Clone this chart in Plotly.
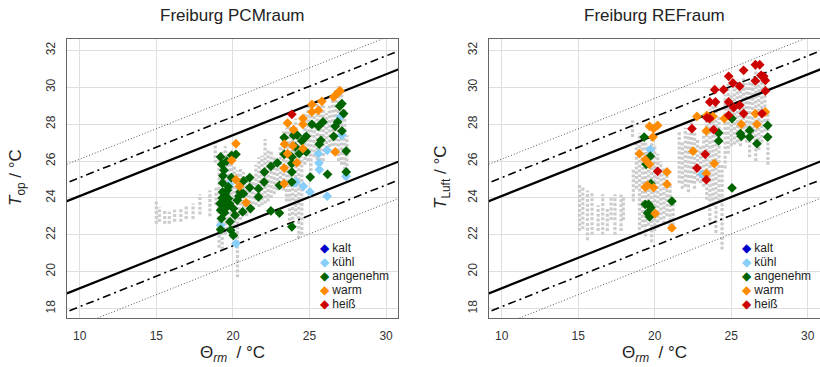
import plotly.graph_objects as go

# ---------------- data ----------------
x_ticks = [10, 15, 20, 25, 30]
y_ticks = [18, 20, 22, 24, 26, 28, 30, 32]
categories = ["kalt", "kühl", "angenehm", "warm", "heiß"]
cat_colors = ["#0000CD", "#87CEFA", "#006400", "#FF8C00", "#CD0000"]

# comfort limits (EN 15251): T = slope*x + base + offset
limit_slope = 0.33
limit_base = 18.8
limit_offsets = [2, -3, 3, -4, 4, -5]
limit_styles = ["solid", "solid", "dashdot", "dashdot", "dot", "dot"]

# gray background measurements (columns: x, lowest y, highest y)
pcm_gray_x = [15.0, 15.2, 15.55, 15.85, 16.2, 16.6, 16.95, 17.4, 17.85, 18.5, 18.85, 18.9,
              19.1, 19.3, 19.5, 19.7, 19.9, 20.1, 20.3, 20.5, 20.7, 20.9, 21.1, 21.3,
              21.5, 21.7, 21.9, 22.1, 22.3, 22.5, 22.7, 22.9, 23.1, 23.3, 23.5, 23.7,
              23.9, 24.1, 24.3, 24.5, 24.7, 24.9, 25.1, 25.3, 25.5, 25.7, 25.9, 26.1,
              26.3, 26.5, 26.7, 26.9, 27.1, 27.3, 27.45]
pcm_gray_lo = [22.6, 22.7, 22.6, 22.6, 22.7, 22.7, 22.85, 22.85, 23.1, 23.0, 25.9, 23.6,
               21.3, 21.2, 22.0, 22.3, 21.8, 22.4, 19.7, 22.8, 23.2, 23.0, 23.2, 23.4,
               23.6, 23.5, 23.6, 23.7, 23.8, 24.0, 24.2, 24.4, 24.5, 24.4, 23.8, 22.5,
               22.3, 23.0, 21.8, 22.0, 25.8, 26.0, 25.2, 26.2, 25.8, 25.5, 26.0, 26.4,
               26.5, 26.8, 26.3, 26.0, 25.8, 25.0, 25.2]
pcm_gray_hi = [23.9, 23.5, 23.35, 23.25, 23.35, 23.45, 23.6, 23.7, 24.2, 24.4, 27.1, 24.6,
               26.3, 26.5, 26.8, 26.5, 26.0, 25.8, 25.5, 25.6, 25.4, 25.2, 24.9, 25.0,
               25.8, 26.2, 26.3, 27.2, 26.6, 26.5, 26.3, 26.0, 26.8, 27.6, 27.8, 28.2,
               27.6, 28.3, 27.0, 26.2, 28.6, 29.0, 28.9, 28.5, 29.3, 29.0, 29.4, 28.6,
               29.0, 29.6, 29.9, 30.1, 29.6, 28.8, 27.4]

ref_gray_x = [15.08, 15.3, 15.6, 15.9, 16.3, 16.6, 16.9, 17.15, 17.4, 17.8, 17.95, 18.55,
              18.6, 18.8, 19.0, 19.2, 19.4, 19.6, 19.8, 20.0, 20.2, 20.4, 20.6, 20.8,
              21.0, 21.2, 21.6, 21.8, 22.0, 22.2, 22.4, 22.6, 22.8, 23.0, 23.2, 23.4,
              23.6, 23.8, 24.0, 24.2, 24.4, 24.6, 24.8, 25.0, 25.2, 25.4, 25.6, 25.8,
              26.0, 26.2, 26.4, 26.6, 26.8, 27.0, 27.2, 27.4]
ref_gray_lo = [22.2, 22.3, 21.7, 22.0, 22.2, 22.0, 22.2, 22.8, 22.0, 22.2, 22.8, 27.3,
               23.8, 24.5, 22.0, 22.4, 21.9, 22.5, 21.6, 22.2, 22.4, 22.8, 22.6, 23.0,
               22.2, 22.5, 24.8, 24.5, 24.6, 24.3, 24.8, 24.5, 24.9, 24.8, 24.6, 23.9,
               22.5, 23.6, 22.1, 23.8, 21.2, 25.6, 26.4, 26.8, 26.9, 27.0, 26.8, 27.2,
               27.0, 26.2, 27.2, 26.0, 26.6, 27.0, 27.6, 25.8]
ref_gray_hi = [24.7, 24.6, 24.4, 24.3, 23.6, 24.2, 23.5, 24.0, 24.2, 24.2, 24.1, 28.2,
               25.6, 27.0, 27.5, 27.4, 27.0, 26.8, 27.2, 26.9, 26.4, 26.0, 25.6, 25.2,
               24.8, 24.0, 27.6, 27.0, 27.8, 27.5, 28.1, 27.6, 27.2, 26.8, 27.5, 28.6,
               28.8, 29.0, 29.2, 28.4, 25.8, 29.6, 30.2, 29.7, 30.0, 30.4, 30.1, 30.6,
               30.2, 30.4, 30.6, 31.0, 30.8, 30.6, 30.2, 28.6]

# ---- PCM room votes ----
pcm_kalt_x, pcm_kalt_y = [], []
pcm_kuehl_x = [19.2, 19.76, 20.2, 24.0, 24.13, 24.6, 25.03, 26.16, 25.58, 25.62, 25.64,
               26.16, 27.1, 27.0, 27.39]
pcm_kuehl_y = [22.51, 24.72, 21.52, 24.81, 24.86, 24.63, 24.32, 24.09, 26.4, 25.89, 25.53,
               26.58, 27.39, 28.38, 25.17]
pcm_angenehm_x = [19.2, 19.27, 19.42, 19.33, 19.33, 19.16, 19.2, 19.25, 19.2, 19.49, 19.55,
                  19.6, 19.64, 19.71, 19.77, 19.81, 19.86, 20.03, 19.92, 20.2, 20.03, 20.14,
                  20.29, 20.47, 20.69, 20.69, 20.64, 21.1, 21.1, 21.15, 21.67, 21.67, 22.04,
                  22.06, 22.48, 22.48, 23.04, 23.04, 23.35, 23.35, 23.85, 23.85, 23.85, 23.85,
                  23.85, 23.96, 24.07, 24.33, 24.5, 24.79, 24.79, 25.05, 25.16, 25.59, 25.64,
                  25.75, 25.88, 26.18, 26.58, 26.68, 26.84, 26.97, 27.12, 27.23, 27.12, 27.4,
                  27.4, 19.4, 19.5, 19.7, 19.3, 19.45, 19.9, 20.4, 19.35, 19.6, 22.9, 24.2]
pcm_angenehm_y = [26.22, 25.82, 25.5, 24.81, 24.32, 23.69, 23.33, 22.88, 22.28, 24.23, 23.87,
                  23.5, 24.41, 23.96, 23.69, 22.7, 22.25, 21.97, 26.31, 26.36, 23.42, 23.06,
                  23.87, 24.32, 24.23, 24.92, 23.24, 25.1, 24.56, 23.42, 24.5, 24.05, 24.86,
                  25.4, 25.71, 23.29, 23.18, 24.68, 27.27, 26.36, 26.22, 25.86, 25.41, 24.86,
                  22.43, 27.39, 26.76, 26.4, 27.09, 27.34, 26.49, 25.13, 27.99, 27.88, 26.91,
                  27.12, 28.12, 25.28, 27.34, 27.88, 28.12, 28.97, 29.11, 28.57, 27.63, 26.54,
                  25.41, 24.0, 23.6, 24.6, 24.0, 23.2, 25.1, 24.1, 25.2, 26.0, 25.9, 27.4]
pcm_warm_x = [19.92, 20.2, 20.2, 20.43, 20.86, 23.57, 23.37, 23.57, 23.35, 23.35, 23.96, 23.91,
              24.18, 24.57, 24.57, 24.57, 25.16, 25.16, 25.59, 25.81, 26.58, 26.84, 27.0, 26.68]
pcm_warm_y = [26.04, 26.94, 24.99, 24.63, 23.74, 28.06, 26.91, 26.4, 25.62, 24.77, 27.7, 26.83,
              25.91, 28.3, 27.99, 26.67, 29.07, 28.66, 28.75, 29.24, 29.47, 29.69, 29.8, 26.49]
pcm_heiss_x = [23.85]
pcm_heiss_y = [28.53]

# ---- reference room votes ----
ref_kalt_x, ref_kalt_y = [], []
ref_kuehl_x = [19.71, 23.09]
ref_kuehl_y = [26.62, 25.28]
ref_angenehm_x = [19.31, 19.71, 19.44, 19.75, 19.38, 19.6, 19.75, 19.53, 19.66, 21.12, 25.05,
                  24.18, 24.18, 25.6, 25.66, 26.2, 26.2, 26.68, 27.38, 27.38, 25.05]
ref_angenehm_y = [27.3, 26.26, 25.82, 24.77, 23.65, 23.65, 23.47, 23.18, 22.97, 23.82, 28.3,
                  27.52, 27.09, 27.48, 27.34, 27.66, 27.3, 26.94, 27.93, 27.3, 24.54]
ref_warm_x = [19.66, 19.92, 20.19, 19.88, 19.0, 19.38, 19.66, 19.38, 19.53, 19.92, 20.8, 20.8,
              20.03, 21.12, 22.76, 23.41, 23.8, 23.37, 22.5, 23.89, 23.37, 24.55, 25.66, 26.58,
              26.68, 27.23]
ref_warm_y = [27.88, 27.75, 27.93, 27.3, 26.4, 26.08, 25.82, 24.59, 24.68, 24.56, 25.41, 24.74,
              23.15, 22.37, 28.42, 28.48, 28.42, 27.63, 26.53, 25.86, 25.32, 28.3, 27.99, 28.57,
              27.99, 28.66]
ref_heiss_x = [26.58, 26.86, 25.81, 26.95, 27.12, 27.23, 26.58, 24.83, 25.11, 25.55, 23.92, 24.5,
               27.23, 23.6, 23.97, 24.83, 25.16, 25.55, 25.81, 27.01, 24.83, 23.41, 23.59, 23.85,
               22.43, 23.3, 22.76, 23.37, 20.19]
ref_heiss_y = [31.22, 31.22, 30.92, 30.65, 30.59, 30.37, 30.34, 30.59, 30.23, 30.05, 29.87, 29.87,
               29.8, 29.2, 29.2, 29.2, 28.89, 29.02, 28.57, 28.57, 28.48, 28.35, 28.3, 27.7,
               27.75, 26.36, 25.62, 24.99, 25.44]

panels = [
    dict(title="Freiburg PCMraum", ytitle="<i>T</i><sub>op</sub> / °C",
         gx=pcm_gray_x, glo=pcm_gray_lo, ghi=pcm_gray_hi,
         votes=[(pcm_kalt_x, pcm_kalt_y), (pcm_kuehl_x, pcm_kuehl_y),
                (pcm_angenehm_x, pcm_angenehm_y), (pcm_warm_x, pcm_warm_y),
                (pcm_heiss_x, pcm_heiss_y)]),
    dict(title="Freiburg REFraum", ytitle="<i>T</i><sub>Luft</sub> / °C",
         gx=ref_gray_x, glo=ref_gray_lo, ghi=ref_gray_hi,
         votes=[(ref_kalt_x, ref_kalt_y), (ref_kuehl_x, ref_kuehl_y),
                (ref_angenehm_x, ref_angenehm_y), (ref_warm_x, ref_warm_y),
                (ref_heiss_x, ref_heiss_y)]),
]

# ---------------- layout geometry (pixels) ----------------
W, H = 820, 367
X_RANGE = [9.15, 30.8]
Y_RANGE = [17.47, 32.6]
x_domains = [[66.7 / W, 398.3 / W], [488.7 / W, 1.0]]
y_domain = [(H - 318.3) / H, (H - 39.3) / H]
FONT = "Liberation Sans, Arial, sans-serif"

fig = go.Figure()
annotations = []
line_x = [X_RANGE[0] - 2, X_RANGE[1] + 2]

for i, p in enumerate(panels):
    xa = "x" if i == 0 else "x2"
    ya = "y" if i == 0 else "y2"
    # gray background points (vertical columns)
    gx, gy = [], []
    for x, lo, hi in zip(p["gx"], p["glo"], p["ghi"]):
        gx += [x, x, None]
        gy += [lo, hi, None]
    fig.add_trace(go.Scatter(x=gx, y=gy, mode="lines", xaxis=xa, yaxis=ya,
                             line=dict(color="#cccccc", width=3.2, dash="3px,1.8px"),
                             showlegend=False, hoverinfo="skip"))
    # comfort limit lines
    for off, st in zip(limit_offsets, limit_styles):
        ys = [limit_slope * x + limit_base + off for x in line_x]
        if st == "solid":
            ln = dict(color="black", width=2.2)
        elif st == "dashdot":
            ln = dict(color="black", width=1.6, dash="8px,4px,2px,4px")
        else:
            ln = dict(color="#444444", width=0.9, dash="1px,2px")
        fig.add_trace(go.Scatter(x=line_x, y=ys, mode="lines", xaxis=xa, yaxis=ya,
                                 line=ln, showlegend=False, hoverinfo="skip"))
    # votes
    for (vx, vy), name, col in zip(p["votes"], categories, cat_colors):
        fig.add_trace(go.Scatter(x=vx, y=vy, mode="markers", xaxis=xa, yaxis=ya, name=name,
                                 marker=dict(symbol="diamond", size=7.5, color=col,
                                             line=dict(width=0)),
                                 showlegend=False))

    x0, x1 = x_domains[i]
    cx = (x0 + x1) / 2
    # title
    annotations.append(dict(text=p["title"], x=cx, y=(H - 15) / H, xref="paper", yref="paper",
                            showarrow=False, xanchor="center", yanchor="middle",
                            font=dict(family=FONT, size=17, color="#222222")))
    # x title
    annotations.append(dict(text="Θ<sub><i>rm</i></sub>  / °C", x=cx, y=(H - 354) / H,
                            xref="paper", yref="paper", showarrow=False,
                            xanchor="center", yanchor="middle",
                            font=dict(family=FONT, size=17, color="#222222")))
    # y title
    ytx = (17 if i == 0 else 442) / W
    annotations.append(dict(text=p["ytitle"], x=ytx, y=(H - 178) / H, xref="paper",
                            yref="paper", showarrow=False, textangle=-90,
                            xanchor="center", yanchor="middle",
                            font=dict(family=FONT, size=17, color="#222222")))
    # legend (text-based)
    lx = (318 if i == 0 else 740) / W
    rows = [248, 262, 276, 290, 303.5]
    for name, col, ry in zip(categories, cat_colors, rows):
        annotations.append(dict(text=f'<span style="color:{col}">◆</span> {name}',
                                x=lx, y=(H - ry) / H, xref="paper", yref="paper",
                                showarrow=False, xanchor="left", yanchor="middle",
                                font=dict(family=FONT, size=12, color="#222222")))

axis_common = dict(showgrid=True, gridcolor="#dedede", gridwidth=1, zeroline=False,
                   showline=True, mirror=True, linecolor="#666666", linewidth=1,
                   ticks="", tickfont=dict(family=FONT, size=12, color="#333333"))

fig.update_layout(
    width=W, height=H, margin=dict(l=0, r=0, t=0, b=0),
    paper_bgcolor="white", plot_bgcolor="white", showlegend=False,
    xaxis=dict(domain=x_domains[0], range=X_RANGE, tickvals=x_ticks, anchor="y",
               ticklabelstandoff=6, **axis_common),
    yaxis=dict(domain=y_domain, range=Y_RANGE, tickvals=y_ticks, anchor="x",
               tickangle=-90, ticklabelstandoff=6, **axis_common),
    xaxis2=dict(domain=x_domains[1], range=X_RANGE, tickvals=x_ticks, anchor="y2",
                ticklabelstandoff=6, **axis_common),
    yaxis2=dict(domain=y_domain, range=Y_RANGE, tickvals=y_ticks, anchor="x2",
                tickangle=-90, ticklabelstandoff=6, **axis_common),
    annotations=annotations,
)

fig.write_html("out.html")
